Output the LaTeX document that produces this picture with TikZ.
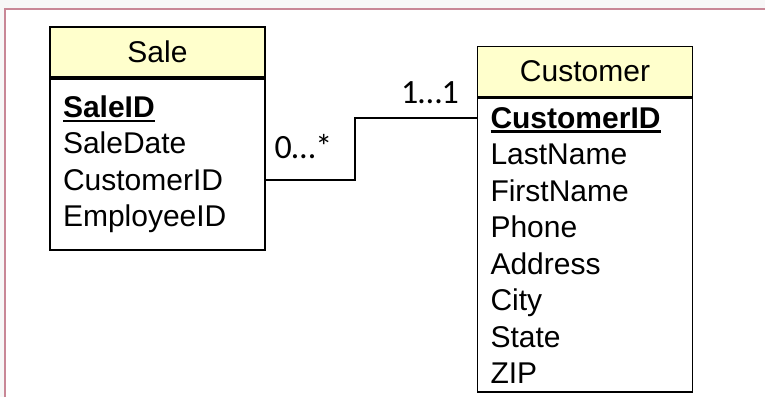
\documentclass[tikz,border=0pt]{standalone}
\usepackage{fontspec}
\setmainfont{Liberation Sans}
\newfontfamily\cardfont{Carlito}
\usetikzlibrary{positioning}
\definecolor{hdryellow}{RGB}{255,255,204}
\definecolor{framepink}{RGB}{200,135,150}
\newcommand{\pkey}[1]{\setbox0\hbox{\bfseries #1}\rlap{\rule[-5pt]{\wd0}{2.6pt}}\box0}

\begin{document}
\begin{tikzpicture}[x=1pt,y=-1pt,
	hdr/.style={draw,line width=1.8pt,fill=hdryellow,minimum width=215pt,minimum height=50pt,inner sep=0pt,font=\fontsize{30}{35}\selectfont},
	attrs/.style={draw,line width=1.8pt,fill=white,text width=189pt,inner xsep=13pt,inner ysep=0pt,align=left,font=\fontsize{30}{36.5}\selectfont},
	card/.style={inner sep=0pt,anchor=base,font=\cardfont\fontsize{34}{38}\selectfont}]
				\useasboundingbox (0,0) rectangle (765,397);
				\fill[gray!6] (0,0) rectangle (765,397);
				\fill[white] (5,9) rectangle (765,397);
				\draw[framepink,line width=1.5pt] (5,397) -- (5,9) -- (765,9);
				\node[hdr] (sale) at (157.5,52) {Sale};
				\node[attrs,minimum height=171pt,below=0pt of sale] (salebody) {\pkey{SaleID}\\SaleDate\\CustomerID\\EmployeeID};
				\node[hdr] (customer) at (585,71.5) {Customer};
				\node[attrs,minimum height=294pt,below=0pt of customer] (custbody) {\pkey{CustomerID}\\LastName\\FirstName\\Phone\\Address\\City\\State\\ZIP};
				\coordinate (bend) at (355,0);
				\coordinate (salefk) at ([yshift=-15.5pt]salebody.east);
				\coordinate (custpk) at ([yshift=-20.5pt]custbody.north west);
				\draw[line width=1.5pt] (salefk) -| (bend |- custpk) -- (custpk);
				\node[card] (many) at (303.5,158) {0…*};
				\node[card] (one) at (430,103) {1…1};
			\end{tikzpicture}
\end{document}
